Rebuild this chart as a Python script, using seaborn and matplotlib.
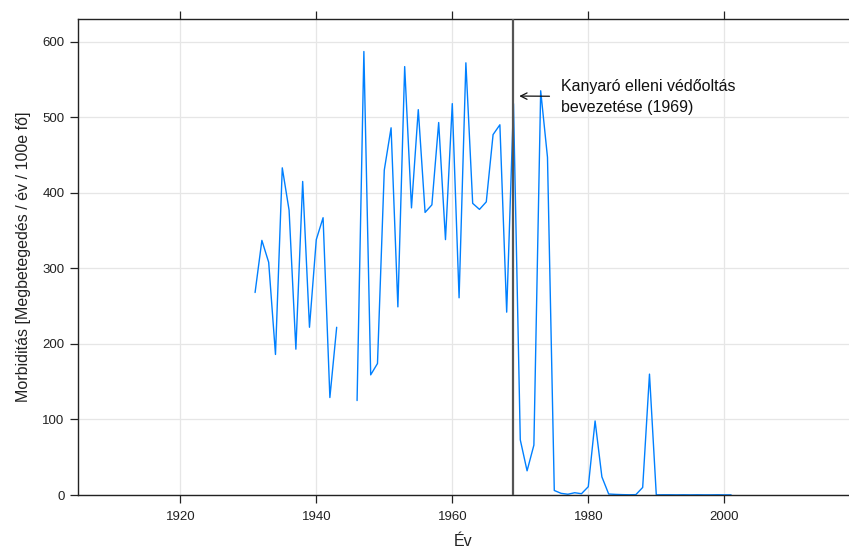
import numpy as np
import pandas as pd
import matplotlib
matplotlib.use("Agg")
import matplotlib.pyplot as plt
import seaborn as sns

# Measles morbidity in Hungary, cases per year per 100 000 inhabitants
years_a = list(range(1931, 1944))
morb_a = [268, 337, 308, 186, 433, 377, 193, 415, 222, 338, 367, 129, 222]

years_b = list(range(1946, 2002))
morb_b = [125, 587, 159, 174, 430, 486, 249, 567, 380, 510,
          374, 384, 493, 338, 518, 261, 572, 386, 378, 388,
          477, 490, 242, 518, 73, 32, 66, 535, 447, 6,
          2.2, 1.0, 3.0, 1.7, 11, 98, 24, 1.3, 0.8, 0.5,
          0.3, 0.5, 10, 160, 0.2, 0.3, 0.3, 0.2, 0.3, 0.2,
          0.3, 0.2, 0.2, 0.3, 0.2, 0.2]

vaccine_year = 1969
annotation = "Kanyaró elleni védőoltás\nbevezetése (1969)"
x_ticks = [1920, 1940, 1960, 1980, 2000]
y_ticks = [0, 100, 200, 300, 400, 500, 600]

df = pd.DataFrame({
    "Év": years_a + years_b,
    "morb": morb_a + morb_b,
    "szakasz": ["a"] * len(years_a) + ["b"] * len(years_b),
})

sns.set_theme(style="white")
plt.rcParams["font.family"] = ["Liberation Sans", "DejaVu Sans"]

W, H = 849, 548
fig = plt.figure(figsize=(W / 100, H / 100), dpi=100)
ax = fig.add_axes([78 / W, 1 - 495 / H, 1 - 78 / W, (495 - 19) / H])

ax.set_xlim(1904.96, 2018.34)
ax.set_ylim(0, 630)
ax.set_xticks(x_ticks)
ax.set_yticks(y_ticks)
ax.grid(True, color="#e6e6e6", linewidth=0.9)
ax.set_axisbelow(True)

sns.lineplot(data=df, x="Év", y="morb", units="szakasz", estimator=None,
             color="#0080ff", linewidth=1.0, ax=ax)

ax.axvline(vaccine_year, color="#555555", linewidth=1.6, zorder=3)

ax.annotate(annotation, xy=(1969.85, 528), xytext=(1976.0, 527),
            ha="left", va="center", fontsize=11.5, color="#111111",
            linespacing=1.45,
            arrowprops=dict(arrowstyle="->", color="#111111", lw=0.9,
                            shrinkA=6, shrinkB=0))

for side in ["left", "bottom", "top"]:
    ax.spines[side].set_visible(True)
    ax.spines[side].set_color("#222222")
    ax.spines[side].set_linewidth(1.0)
ax.spines["right"].set_visible(False)

ax.tick_params(axis="x", which="both", bottom=True, top=True, direction="out",
               length=5.8, width=0.9, color="#222222", labelsize=9.5,
               labelcolor="#222222", pad=6)
ax.tick_params(axis="y", which="both", left=True, right=False, direction="out",
               length=5.8, width=0.9, color="#222222", labelsize=9.5,
               labelcolor="#222222", pad=4)

ax.set_xlabel("Év", fontsize=11.5, color="#222222", labelpad=8)
ax.set_ylabel("Morbiditás [Megbetegedés / év / 100e fő]", fontsize=11.5,
              color="#222222", labelpad=8)

fig.savefig("out.png", dpi=100)
